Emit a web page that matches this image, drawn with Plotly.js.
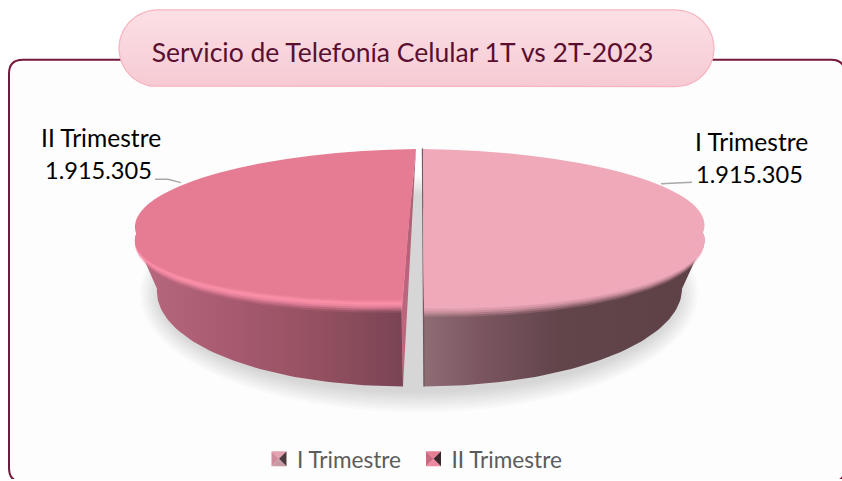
<!DOCTYPE html>
<html><head><meta charset="utf-8">
<script src="https://cdn.plot.ly/plotly-3.0.1.min.js"></script>
<style>html,body{margin:0;padding:0;background:#fff;overflow:hidden}#c{width:842px;height:481px}</style>
</head><body><div id="c"></div>
<script>
const categories = ['I Trimestre', 'II Trimestre'];
const values = [1915305, 1915305];
const valueLabels = ['1.915.305', '1.915.305'];
const sliceColors = ['#efa9b9', '#e57c93'];
const titleText = 'Servicio de Telefonía Celular 1T vs 2T-2023';
const FONT = 'Lato, Carlito, "Open Sans", sans-serif';

const total = values.reduce((a, b) => a + b, 0);
const sweep = values.map(v => 360 * v / total);
const rad = d => d * Math.PI / 180;

// Projection of each slice: C centre, U sideways, V towards the back of the disc
const geo = [
  { top: {C:[423.5,222], U:[281,3],  V:[-0.5,-73]},
    rim: {C:[423.5,235], U:[281,6],  V:[-0.5,-74]},
    base:{C:[424,290],   U:[258,0],  V:[0,-98]} },
  { top: {C:[409,222],   U:[274,-3], V:[7,-73]},
    rim: {C:[409,235],   U:[274,-5], V:[7,-68]},
    base:{C:[410,290],   U:[253,0],  V:[7,-98]} }
];
// dy fades out towards the sides of the disc so that the rim tapers to nothing there
const pt = (g, a, dy) => {
  const s = Math.sin(rad(a)), c = Math.cos(rad(a));
  return [g.C[0] + s * g.U[0] + c * g.V[0],
          g.C[1] + s * g.U[1] + c * g.V[1] + (dy || 0) * (c < 0 ? Math.sqrt(-c) : 0)];
};
function arc(g, a0, a1, dy) {
  const n = 60, out = [];
  for (let i = 0; i <= n; i++) out.push(pt(g, a0 + (a1 - a0) * i / n, dy));
  return out;
}
const toXY = pts => ({x: pts.map(p => p[0]), y: pts.map(p => p[1])});
const base = {type:'scatter', mode:'lines', hoverinfo:'skip', showlegend:false, xaxis:'x', yaxis:'y'};
const traces = [];

// front quarter of each slice, from the values
const frontR = [sweep[0] / 2, sweep[0]];
const frontL = [sweep[0], sweep[0] + sweep[1] / 2];
// rim bands run a little past the side of the disc, under the top surface
const overlap = 15;
const bandR = [frontR[0] - overlap, frontR[1]];
const bandL = [frontL[0], frontL[1] + overlap];

// outer walls
const wallR = arc(geo[0].rim, frontR[0], frontR[1]).concat(arc(geo[0].base, frontR[1], frontR[0]));
traces.push({...base, ...toXY(wallR.concat([wallR[0]])), fill:'toself', line:{width:0},
  fillgradient:{type:'horizontal', start:424, stop:705,
    colorscale:[[0,'#8f6d75'],[0.2,'#7b5660'],[0.48,'#62444b'],[1,'#5e4147']]}});
const wallL = arc(geo[1].rim, frontL[1], frontL[0]).concat(arc(geo[1].base, frontL[0], frontL[1]));
traces.push({...base, ...toXY(wallL.concat([wallL[0]])), fill:'toself', line:{width:0},
  fillgradient:{type:'horizontal', start:135, stop:403,
    colorscale:[[0,'#b8697e'],[0.35,'#a85a71'],[0.7,'#93505f'],[1,'#7a4455']]}});

// cut face of the left slice
const apexBack = pt(geo[1].top, sweep[0] + sweep[1]);
const rimFront = pt(geo[1].rim, sweep[0]);
const baseFront = pt(geo[1].base, sweep[0]);
traces.push({...base, x:[apexBack[0], rimFront[0]-1, baseFront[0], apexBack[0]], y:[apexBack[1], rimFront[1], baseFront[1], apexBack[1]],
  fill:'toself', line:{width:0},
  fillgradient:{type:'vertical', start:149, stop:388,
    colorscale:[[0,'#a65c72'],[0.55,'#b9657d'],[1,'#c0687f']]}});
// thin cut edge of the right slice
const eTop = pt(geo[0].top, 0), eBot = pt(geo[0].base, sweep[0]);
traces.push({...base, x:[eTop[0]-0.5, eBot[0]], y:[eTop[1], eBot[1]], line:{color:'#6d5a60', width:1.4}});

// rim bands, painted outermost first
function band(g, a, color, dy, op) {
  const pts = arc(g, a[0], a[1], dy);
  const c = g.C;
  pts.push([c[0], c[1] + dy - 20]);
  pts.push(pts[0]);
  traces.push({...base, ...toXY(pts), fill:'toself', fillcolor:color, opacity:op, line:{width:0}});
}
[9,7,5,3,1,-1,-3,-5].forEach((d, i) => band(geo[0].rim, bandR, sliceColors[0], d, 0.2 + i * 0.11));
band(geo[0].rim, bandR, sliceColors[0], -6, 1);
[11,9,7,5,3].forEach((d, i) => band(geo[1].rim, bandL, '#fb8fa9', d, 0.15 + i * 0.16));
band(geo[1].rim, bandL, '#fb8fa9', 2, 1);
[1,0,-1,-2,-3].forEach((d, i) => band(geo[1].rim, bandL, sliceColors[1], d, 0.2 + i * 0.18));
band(geo[1].rim, bandL, sliceColors[1], -4, 1);

// title pill
const pill = {x0:119, x1:714, y0:10, y1:87};
const pillPts = (() => {
  const r = (pill.y1 - pill.y0) / 2, cy = pill.y0 + r, out = [];
  for (let a = -90; a <= 90; a += 5) out.push([pill.x1 - r + r * Math.cos(rad(a)), cy + r * Math.sin(rad(a))]);
  for (let a = 90; a <= 270; a += 5) out.push([pill.x0 + r + r * Math.cos(rad(a)), cy + r * Math.sin(rad(a))]);
  out.push(out[0]);
  return out;
})();
traces.push({...base, ...toXY(pillPts), fill:'toself', line:{color:'#f7b2bf', width:1.2},
  fillgradient:{type:'vertical', start:pill.y0, stop:pill.y1, colorscale:[[0,'#fce0e6'],[1,'#f6cad3']]}});

// the slices themselves
traces.push({type:'pie', labels:categories, values:values, sort:false, direction:'clockwise', rotation:0,
  textinfo:'none', hoverinfo:'skip', marker:{colors:sliceColors, line:{width:0}}, domain:{x:[0,1], y:[0,1]}});

// soft shadow
const shapes = [];
shapes.push({type:'path', xref:'x', yref:'y', layer:'below', fillcolor:'#fdfdfd', line:{color:'#74183c', width:2},
  path:'M9,74 Q9,60 23,60 L831,60 Q845,60 845,74 L845,470 Q845,484 831,484 L23,484 Q9,484 9,470 Z'});
for (let i = 0; i < 10; i++) {
  const g = i * 2.2;
  shapes.push({type:'circle', xref:'x', yref:'y', layer:'below', line:{width:0}, fillcolor:'rgba(120,120,120,0.027)',
    x0:140 + g, x1:698 - g, y0:176 + g, y1:414 - g});
}
// leader lines
shapes.push({type:'path', xref:'x', yref:'y', layer:'below', line:{color:'#a8a8a8', width:1.3}, path:'M155,180 L168,180 L181,183.5'});
shapes.push({type:'path', xref:'x', yref:'y', layer:'below', line:{color:'#a8a8a8', width:1.3}, path:'M661,184.5 L692,183'});

const lab = (txt, x, y, size) => ({text:txt, xref:'x', yref:'y', x:x, y:y, showarrow:false, xanchor:'center', yanchor:'middle',
  font:{family:FONT, size:size, color:'#000'}});
const annotations = [
  lab(categories[1], 100.5, 138, 24.6), lab(valueLabels[1], 98, 171, 23.6),
  lab(categories[0], 751.5, 142, 24.6), lab(valueLabels[0], 749.5, 175, 23.6)
];

const layout = {
  width:842, height:481, margin:{l:0,r:0,t:0,b:0}, paper_bgcolor:'#fff', plot_bgcolor:'rgba(0,0,0,0)',
  title:{text:titleText, x:402.5/842, xanchor:'center', y:1-52.5/481, yanchor:'middle', font:{family:FONT, size:26.5, color:'#5a0f30'}},
  xaxis:{range:[0,842], visible:false, fixedrange:true},
  yaxis:{range:[481,0], visible:false, fixedrange:true},
  showlegend:true,
  legend:{orientation:'h', x:259/842, xanchor:'left', y:1-461/481, yanchor:'middle', bgcolor:'rgba(0,0,0,0)', traceorder:'normal',
    font:{family:FONT, size:22.6, color:'#5c5c5c'}, itemwidth:30, entrywidthmode:'pixels', entrywidth:109.5},
  shapes:shapes, annotations:annotations
};

const markerFaces = [
  {t:'#e3a2b0', l:'#d08c9c', r:'#4d3a3f', b:'#c79aa4'},
  {t:'#e67e95', l:'#cd667f', r:'#3a282d', b:'#ef88a1'}
];
function finish(gd) {
  gd.querySelectorAll('.pielayer .slice path.surface').forEach((p, i) => {
    const bb = p.getBBox(), r = bb.height / 2, g = geo[i].top;
    const cx = i === 0 ? bb.x : bb.x + bb.width, cy = bb.y + r;
    const a = g.U[0]/r, b = g.U[1]/r, c = -g.V[0]/r, d = -g.V[1]/r;
    p.setAttribute('transform', `matrix(${a},${b},${c},${d},${g.C[0]-a*cx-c*cy},${g.C[1]-b*cx-d*cy})`);
  });
  gd.querySelectorAll('.legend .legendtext').forEach(t => {
    t.setAttribute('x', parseFloat(t.getAttribute('x') || 0) - 2);
  });
  gd.querySelectorAll('.legend .legendpoints path').forEach((p, i) => {
    const s = 7.5, f = markerFaces[i];
    [[f.t,`M${-s},${-s}L${s},${-s}L0,0Z`],[f.b,`M${-s},${s}L0,0L${s},${s}Z`],[f.l,`M${-s},${-s}L0,0L${-s},${s}Z`],[f.r,`M${s},${-s}L${s},${s}L0,0Z`]].forEach(a => {
      const q = document.createElementNS('http://www.w3.org/2000/svg','path');
      q.setAttribute('d', a[1]); q.setAttribute('fill', a[0]);
      if (p.getAttribute('transform')) q.setAttribute('transform', p.getAttribute('transform'));
      p.parentNode.appendChild(q);
    });
    p.style.opacity = 0;
  });
}
Plotly.newPlot('c', traces, layout, {displayModeBar:false, staticPlot:true}).then(finish);
</script></body></html>
